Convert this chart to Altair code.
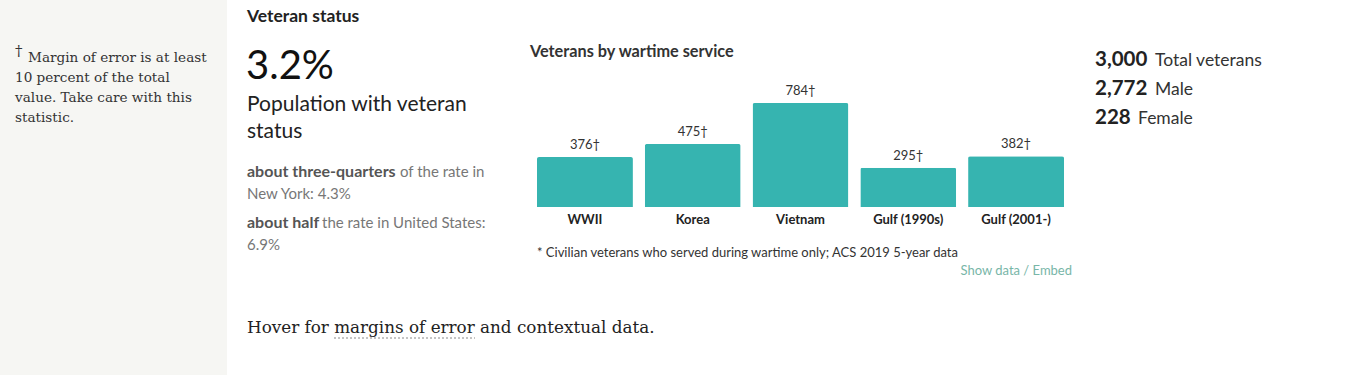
import altair as alt
import pandas as pd

categories = ["WWII", "Korea", "Vietnam", "Gulf (1990s)", "Gulf (2001-)"]
veterans = [376, 475, 784, 295, 382]
value_labels = ["376†", "475†", "784†", "295†", "382†"]

df = pd.DataFrame({"category": categories, "value": veterans, "label": value_labels})

W, H = 1364, 375
SANS = "Lato"
SERIF = "DejaVu Serif"
BAR = "#36b4b0"

xscale = alt.Scale(domain=categories, range=[537, 1064], paddingInner=0.11, paddingOuter=0)
yscale = alt.Scale(domain=[0, 784], range=[207, 103], nice=False, zero=True)

one = alt.Data(values=[{"k": 1}])


def txt(s, x, y, size, color="#333333", weight="normal", font=SANS, align="left"):
    return alt.Chart(one).mark_text(
        text=s, font=font, fontSize=size, fontWeight=weight, color=color,
        align=align, baseline="alphabetic"
    ).encode(x=alt.value(x), y=alt.value(y))


bg = alt.Chart(one).mark_rect(color="#f6f6f3").encode(
    x=alt.value(0), x2=alt.value(227), y=alt.value(0), y2=alt.value(H)
)

bars = alt.Chart(df).mark_bar(
    color=BAR, cornerRadiusTopLeft=2, cornerRadiusTopRight=2
).encode(
    x=alt.X("category:N", scale=xscale, axis=None, sort=categories),
    y=alt.Y("value:Q", scale=yscale, axis=None),
)

vals = alt.Chart(df).mark_text(
    font=SANS, fontSize=13, color="#333333", baseline="alphabetic", dy=-8
).encode(
    x=alt.X("category:N", scale=xscale, axis=None, sort=categories, bandPosition=0.5),
    y=alt.Y("value:Q", scale=yscale, axis=None),
    text="label:N",
)

cats = alt.Chart(df).mark_text(
    font=SANS, fontSize=13, fontWeight="bold", color="#222222", baseline="alphabetic"
).encode(
    x=alt.X("category:N", scale=xscale, axis=None, sort=categories, bandPosition=0.5),
    y=alt.value(224),
    text="category:N",
)

underline = alt.Chart(one).mark_rule(color="#888888", strokeDash=[2, 2], strokeWidth=1).encode(
    x=alt.value(334), x2=alt.value(475), y=alt.value(338)
)

layers = [
    bg,
    # left footnote
    txt("†", 15, 56, 15, "#333333", font=SERIF),
    txt("Margin of error is at least", 28, 62, 13.6, "#333333", font=SERIF),
    txt("10 percent of the total", 15, 82, 13.6, "#333333", font=SERIF),
    txt("value. Take care with this", 15, 102, 13.6, "#333333", font=SERIF),
    txt("statistic.", 15, 122, 13.6, "#333333", font=SERIF),
    # headline block
    txt("Veteran status", 247, 22, 17.5, "#222222", "bold"),
    txt("3.2%", 246, 79, 40, "#111111"),
    txt("Population with veteran", 247, 111, 21, "#222222"),
    txt("status", 247, 138, 21, "#222222"),
    txt("about three-quarters", 247, 177, 16, "#555555", "bold"),
    txt("of the rate in", 400, 177, 15, "#777777"),
    txt("New York: 4.3%", 247, 199, 15, "#777777"),
    txt("about half", 247, 228, 16, "#555555", "bold"),
    txt("the rate in United States:", 322, 228, 15, "#777777"),
    txt("6.9%", 247, 250, 15, "#777777"),
    # chart
    txt("Veterans by wartime service", 530, 57, 16.3, "#333333", "bold"),
    bars, vals, cats,
    txt("* Civilian veterans who served during wartime only; ACS 2019 5-year data", 537, 257, 13, "#333333"),
    txt("Show data / Embed", 1072, 275, 13, "#78b6a8", align="right"),
    # right stats
    txt("3,000", 1095, 66, 20.5, "#222222", "bold"),
    txt("Total veterans", 1155, 66, 17.5, "#333333"),
    txt("2,772", 1095, 95, 20.5, "#222222", "bold"),
    txt("Male", 1155, 95, 17.5, "#333333"),
    txt("228", 1095, 124, 20.5, "#222222", "bold"),
    txt("Female", 1138, 124, 17.5, "#333333"),
    # hover note
    txt("Hover for margins of error and contextual data.", 247, 333, 16.8, "#222222", font=SERIF),
    underline,
]

chart = alt.layer(*layers).properties(
    width=W, height=H,
    autosize=alt.AutoSizeParams(type="none"),
    padding=0,
    background="white",
).configure_view(stroke=None)

chart.save("out.html", embed_options={"renderer": "svg", "actions": False})
